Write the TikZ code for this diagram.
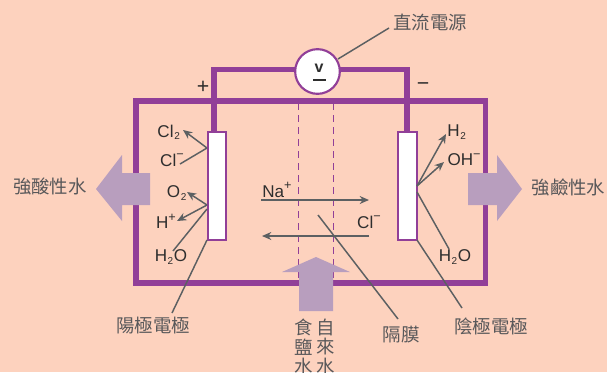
\documentclass[tikz,border=0pt]{standalone}
\usepackage{fontspec}
\setmainfont{Liberation Sans}
\newfontfamily\cjk{Noto Sans CJK TC}
\usetikzlibrary{arrows.meta}
\definecolor{bgc}{HTML}{FDD2BE}
\definecolor{purp}{HTML}{913F98}
\definecolor{lilac}{HTML}{B89EBE}
\definecolor{leadc}{HTML}{5C6062}
\definecolor{txtc}{HTML}{2E2E2E}
\definecolor{cjkc}{HTML}{58585A}
\tikzset{
  pipe/.style={draw=purp,line width=3.9pt,line cap=rect},
  electrode/.style={draw=purp,line width=1.5pt,fill=white,rectangle,inner sep=0pt,minimum width=14pt,minimum height=81pt},
  lead/.style={draw=leadc,line width=1.1pt},
  leadarrow/.style={lead,-{Stealth[length=7pt,width=6pt]}},
  membrane/.style={draw=purp,line width=.7pt,dash pattern=on 5pt off 4pt},
  flow/.style={fill=lilac,draw=none},
  chem/.style={text=txtc,font=\fontsize{12.8}{13}\selectfont,inner sep=0pt},
  label/.style={text=cjkc,font=\cjk\fontsize{13.8}{15}\selectfont,inner sep=0pt},
  vlabel/.style={label,align=center,font=\cjk\fontsize{13.8}{14.4}\selectfont},
}
\newcommand{\subs}[1]{\kern.5pt\raisebox{-.25ex}{\fontsize{7.5}{8}\selectfont #1}\kern.5pt}
\newcommand{\sups}[1]{\raisebox{.8ex}{\fontsize{9.5}{10}\selectfont #1}}
\begin{document}
\begin{tikzpicture}[x=.75pt,y=-.75pt]
\useasboundingbox (0,0) rectangle (607,372);
\clip (0,0) rectangle (607,372);
\fill[bgc] (0,0) rectangle (607,372);

% membrane
\coordinate (m1t) at (298,103); \coordinate (m1b) at (298,282);
\coordinate (m2t) at (333,103); \coordinate (m2b) at (333,282);
\draw[membrane] (m1t) -- (m1b);
\draw[membrane] (m2t) -- (m2b);

% frame and wiring
\draw[pipe] (136,101) rectangle (485.5,283);
\coordinate (wl) at (214,69.5);
\coordinate (wr) at (407,69.5);
\coordinate (wlb) at (214,132);
\coordinate (wrb) at (407,131);
\draw[pipe] (wlb) -- (wl) -- (wr) -- (wrb);

% electrodes
\node[electrode] (anode) at (217,186) {};
\node[electrode] (cathode) at (407.5,185.5) {};

% power source
\node[circle,draw=purp,line width=1.6pt,fill=white,minimum size=33.5pt,inner sep=0pt] (src) at (317.5,71.5) {};
\node[inner sep=0pt,font=\bfseries\fontsize{12}{12}\selectfont,text=txtc] (v) at (319,68.5) {v};
\coordinate (vbl) at (313,80);\coordinate (vbr) at (326,80);
\draw[txtc,line width=1pt] (vbl) -- (vbr);

% flow arrows
\fill[flow] (122,173) -- (122,155) -- (96,189) -- (122,221) -- (122,205) -- (150,205) -- (150,173) -- cycle;
\fill[flow] (468,173) -- (497,173) -- (497,155) -- (522,189) -- (497,221) -- (497,205) -- (468,205) -- cycle;
\fill[flow] (299,311) -- (299,272) -- (282,272) -- (316,257) -- (350,272) -- (333,272) -- (333,311) -- cycle;

% chem labels
\node[chem] (cl2) at (169,132) {Cl\subs{2}};
\node[chem] (clm) at (172,160) {Cl\sups{−}};
\node[chem] (o2) at (177,193) {O\subs{2}};
\node[chem] (hp) at (166,221) {H\sups{+}};
\node[chem] (h2ol) at (171,257) {H\subs{2}O};
\node[chem] (h2) at (457,132) {H\subs{2}};
\node[chem] (ohm) at (464,160) {OH\sups{−}};
\node[chem] (h2or) at (455,257) {H\subs{2}O};
\node[chem] (na) at (277,190) {Na\sups{+}};
\node[chem] (clr) at (369,222) {Cl\sups{−}};
\node[text=txtc,inner sep=0pt,font=\fontsize{16}{16}\selectfont] (plus) at (203,87) {+};
\node[text=txtc,inner sep=0pt,font=\fontsize{16}{16}\selectfont] (minus) at (423,87) {−};

% lead anchor points
\coordinate (a1) at (207,148);
\coordinate (a2) at (207,205);
\coordinate (a3) at (207,209);
\coordinate (a4) at (207,240);
\coordinate (c1) at (417,186);
\coordinate (c2) at (417,192);
\coordinate (c3) at (417,240);
\coordinate (t1) at (183,130);
\coordinate (t2) at (180,164);
\coordinate (t3) at (187,192);
\coordinate (t4) at (177,221);
\coordinate (t5) at (173,251);
\coordinate (t6) at (446,134);
\coordinate (t7) at (444,162);
\coordinate (t8) at (449,249);
\coordinate (naS) at (261,200);\coordinate (naE) at (369,200);
\coordinate (clS) at (369,236);\coordinate (clE) at (262,236);
\coordinate (mm) at (318,215);

\draw[leadarrow] (a1) -- (t1);
\draw[lead] (a1) -- (t2);
\draw[leadarrow] (a2) -- (t3);
\draw[leadarrow] (a2) -- (t4);
\draw[lead] (a3) -- (t5);
\draw[leadarrow] (c1) -- (t6);
\draw[leadarrow] (c1) -- (t7);
\draw[lead] (c2) -- (t8);
\draw[leadarrow] (naS) -- (naE);
\draw[leadarrow] (clS) -- (clE);

% captions
\node[label] (dc) at (430,22) {直流電源};
\node[label] (acid) at (50,187) {強酸性水};
\node[label] (alk) at (568.5,187) {強鹼性水};
\node[label] (anl) at (153,326) {陽極電極};
\node[label] (cal) at (491,326) {陰極電極};
\node[label] (mem) at (401,335) {隔膜};
\node[vlabel,anchor=north] (salt) at (303.5,319) {食\\鹽\\水};
\node[vlabel,anchor=north] (tap) at (326,319) {自\\來\\水};

\coordinate (dcl) at (389,28);
\coordinate (srcl) at (338,59);
\coordinate (anlt) at (172,313);
\coordinate (calt) at (462,308);
\coordinate (memt) at (398,319);
\draw[lead] (dcl) -- (srcl);
\draw[lead] (a4) -- (anlt);
\draw[lead] (c3) -- (calt);
\draw[lead] (mm) -- (memt);
\end{tikzpicture}
\end{document}
